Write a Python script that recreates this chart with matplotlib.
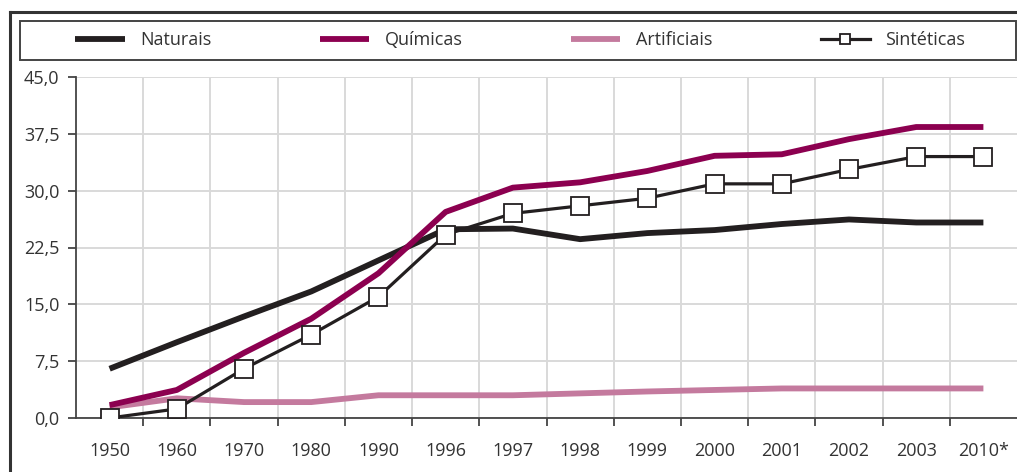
import numpy as np
import matplotlib.pyplot as plt
from matplotlib.lines import Line2D
from matplotlib.patches import Rectangle
from matplotlib.ticker import FixedLocator, FuncFormatter

plt.rcParams['font.family'] = ['Open Sans', 'DejaVu Sans']

# dados
anos = ['1950', '1960', '1970', '1980', '1990', '1996', '1997', '1998',
        '1999', '2000', '2001', '2002', '2003', '2010*']
naturais = [6.5, 10.0, 13.4, 16.7, 20.8, 24.9, 25.0, 23.6, 24.4, 24.8, 25.6, 26.2, 25.8, 25.8]
quimicas = [1.7, 3.7, 8.6, 13.1, 19.1, 27.2, 30.4, 31.1, 32.6, 34.6, 34.8, 36.8, 38.4, 38.4]
artificiais = [1.4, 2.6, 2.1, 2.1, 3.0, 3.0, 3.0, 3.25, 3.5, 3.7, 3.9, 3.9, 3.9, 3.9]
sinteticas = [0.0, 1.2, 6.5, 11.0, 16.0, 24.2, 27.0, 28.0, 29.0, 30.9, 30.9, 32.8, 34.5, 34.5]

PRETO = '#231f20'
VINHO = '#8c0050'
ROSA = '#c47a9e'
TXT = '#333333'

W, H = 1017, 472
fig = plt.figure(figsize=(W / 100, H / 100), dpi=100)
ax = fig.add_axes([76 / W, 1 - 418 / H, 1 - 76 / W, (418 - 77) / H])

x = np.arange(len(anos))
ax.plot(x, naturais, color=PRETO, lw=4.2, solid_capstyle='butt', label='Naturais', zorder=3)
ax.plot(x, quimicas, color=VINHO, lw=4.2, solid_capstyle='butt', label='Químicas', zorder=4)
ax.plot(x, artificiais, color=ROSA, lw=4.2, solid_capstyle='butt', label='Artificiais', zorder=3)
ax.plot(x, sinteticas, color=PRETO, lw=2.3, marker='s', ms=13, mfc='white', mec=PRETO,
        mew=1.3, label='Sintéticas', zorder=5)

ax.set_xlim(-0.5, len(anos) - 0.5)
ax.set_ylim(0, 45)

# eixo x: rótulos no centro, marcas entre categorias
ax.xaxis.set_major_locator(FixedLocator(x[:-1] + 0.5))
ax.xaxis.set_minor_locator(FixedLocator(x))
ax.xaxis.set_major_formatter(FuncFormatter(lambda v, p: ''))
ax.set_xticks(x, anos, minor=True)
ax.tick_params(axis='x', which='major', length=6, width=1.3, color='#444444', direction='out')
ax.tick_params(axis='x', which='minor', length=0, pad=17, labelsize=13, labelcolor=TXT)

ax.set_yticks(np.arange(0, 45.1, 7.5))
ax.yaxis.set_major_formatter(FuncFormatter(lambda v, p: ('%.1f' % v).replace('.', ',')))
ax.tick_params(axis='y', length=6, width=1.3, color='#444444', pad=6, labelsize=13, labelcolor=TXT)

ax.grid(True, which='major', color='#d9d9d9', lw=1.4, zorder=0)
ax.set_axisbelow(True)
for s in ['top', 'right']:
    ax.spines[s].set_visible(False)
for s in ['left', 'bottom']:
    ax.spines[s].set_color('#444444')
    ax.spines[s].set_linewidth(1.3)

# moldura externa
fig.add_artist(Line2D([10 / W, 10 / W], [0, 1 - 12 / H], transform=fig.transFigure,
                      color='#333333', lw=2.2))
fig.add_artist(Line2D([10 / W, 1], [1 - 12 / H, 1 - 12 / H], transform=fig.transFigure,
                      color='#333333', lw=2.2))
fig.add_artist(Rectangle((20 / W, 1 - 60 / H), (1016 - 20) / W, 39 / H, transform=fig.transFigure,
                         fill=False, ec='#444444', lw=1.4))

handles, labels = ax.get_legend_handles_labels()
leg = fig.legend(handles, labels, loc='center left', bbox_to_anchor=(75 / W, 1 - 40 / H),
                 ncol=4, frameon=False, fontsize=13, handlelength=2.75, handletextpad=0.85,
                 columnspacing=6.0, borderpad=0, borderaxespad=0, markerscale=0.6)
for t in leg.get_texts():
    t.set_color(TXT)

fig.savefig('out.png', dpi=100)
